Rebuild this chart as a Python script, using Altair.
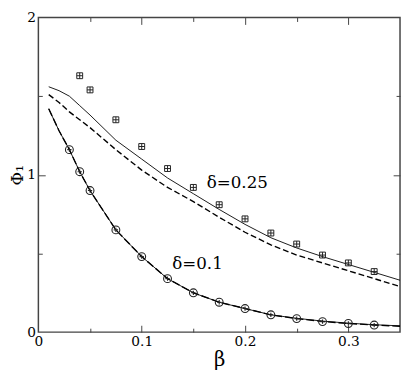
import altair as alt
import pandas as pd

# ---- data ----
beta_line = [0.01, 0.02, 0.03, 0.04, 0.05, 0.075, 0.1, 0.125, 0.15, 0.175,
             0.2, 0.225, 0.25, 0.275, 0.3, 0.325, 0.35]
phi025_solid = [1.56, 1.535, 1.50, 1.44, 1.38, 1.22, 1.10, 0.98, 0.88, 0.78,
                0.685, 0.60, 0.535, 0.48, 0.43, 0.38, 0.33]
phi025_dashed = [1.51, 1.46, 1.40, 1.35, 1.30, 1.16, 1.03, 0.92, 0.83, 0.73,
                 0.635, 0.555, 0.49, 0.44, 0.39, 0.34, 0.29]
phi01_solid = [1.42, 1.28, 1.16, 1.02, 0.90, 0.65, 0.48, 0.34, 0.25, 0.19,
               0.15, 0.11, 0.088, 0.07, 0.057, 0.047, 0.04]
phi01_dashed = [1.42, 1.28, 1.16, 1.02, 0.90, 0.65, 0.48, 0.34, 0.25, 0.19,
                0.15, 0.11, 0.086, 0.068, 0.055, 0.045, 0.037]

sq_beta = [0.04, 0.05, 0.075, 0.1, 0.125, 0.15, 0.175, 0.2, 0.225, 0.25,
           0.275, 0.3, 0.325]
sq_phi = [1.63, 1.54, 1.35, 1.18, 1.04, 0.92, 0.81, 0.72, 0.63, 0.56,
          0.49, 0.44, 0.385]

ci_beta = [0.03, 0.04, 0.05, 0.075, 0.1, 0.125, 0.15, 0.175, 0.2, 0.225,
           0.25, 0.275, 0.3, 0.325]
ci_phi = [1.16, 1.02, 0.90, 0.65, 0.48, 0.34, 0.25, 0.19, 0.15, 0.11,
          0.086, 0.067, 0.055, 0.045]

label_text = ["δ=0.25", "δ=0.1"]
label_beta = [0.1925, 0.154]
label_phi = [0.95, 0.43]

x_label_values = [0, 0.1, 0.2, 0.3]
x_tick_values = [0.05, 0.1, 0.15, 0.2, 0.25, 0.3]
y_label_values = [0, 1, 2]
y_tick_values = [0.5, 1, 1.5]

W, H = 369, 321
FONT = "DejaVu Serif"
AX = "#444444"

df_lines = pd.DataFrame({
    "beta": beta_line,
    "s025": phi025_solid,
    "d025": phi025_dashed,
    "s01": phi01_solid,
    "d01": phi01_dashed,
})
df_sq = pd.DataFrame({"beta": sq_beta, "phi": sq_phi})
df_ci = pd.DataFrame({"beta": ci_beta, "phi": ci_phi})
df_lab = pd.DataFrame({"t": label_text, "beta": label_beta, "phi": label_phi})

xs = alt.Scale(domain=[0, 0.35], nice=False, zero=False)
ys = alt.Scale(domain=[0, 2], nice=False, zero=False)

x_major = "abs(datum.value*10 - round(datum.value*10)) < 0.001"
y_major = "abs(datum.value - round(datum.value)) < 0.001"

ax_x_main = alt.Axis(values=x_label_values, ticks=False, domain=False, grid=False,
                     labelFont=FONT, labelFontSize=14, labelColor="black", labelPadding=3,
                     labelFlush=False, format="~g",
                     title="β", titleFont=FONT, titleFontSize=20, titleFontWeight="normal",
                     titleColor="black", titlePadding=1)
ax_y_main = alt.Axis(values=y_label_values, ticks=False, domain=False, grid=False,
                     labelFont=FONT, labelFontSize=14, labelColor="black", labelPadding=3,
                     labelFlush=False, format="~g",
                     title="Φ₁", titleFont=FONT, titleFontSize=17, titleFontWeight="normal",
                     titleColor="black", titlePadding=0)


def tick_axis_x(orient):
    return alt.Axis(orient=orient, offset=-H, values=x_tick_values, labels=False,
                    domain=False, grid=False, title=None, tickColor=AX, tickWidth=1,
                    tickSize={"condition": {"test": x_major, "value": 7}, "value": 4})


def tick_axis_y(orient):
    return alt.Axis(orient=orient, offset=-W, values=y_tick_values, labels=False,
                    domain=False, grid=False, title=None, tickColor=AX, tickWidth=1,
                    tickSize={"condition": {"test": y_major, "value": 7}, "value": 4})


base = alt.Chart(df_lines)

l1 = base.mark_line(color="black", strokeWidth=0.9).encode(
    x=alt.X("beta:Q", scale=xs, axis=ax_x_main),
    y=alt.Y("s025:Q", scale=ys, axis=ax_y_main),
)
l2 = base.mark_line(color="black", strokeWidth=1.4, strokeDash=[6, 3]).encode(
    x=alt.X("beta:Q", scale=xs, axis=tick_axis_x("top")),
    y=alt.Y("d025:Q", scale=ys, axis=tick_axis_y("right")),
)
l3 = base.mark_line(color="black", strokeWidth=0.9).encode(
    x=alt.X("beta:Q", scale=xs, axis=tick_axis_x("bottom")),
    y=alt.Y("s01:Q", scale=ys, axis=tick_axis_y("left")),
)
l4 = base.mark_line(color="black", strokeWidth=1.4, strokeDash=[8, 3]).encode(
    x=alt.X("beta:Q", scale=xs, axis=None),
    y=alt.Y("d01:Q", scale=ys, axis=None),
)

sq_shape = "M-1,-1H1V1H-1Z M-1,0H1 M0,-1V1"
ci_shape = "M-1,0A1,1 0 1,1 1,0A1,1 0 1,1 -1,0Z M-0.55,0H0.55 M0,-0.55V0.55"

pts_sq = alt.Chart(df_sq).mark_point(shape=sq_shape, size=36, filled=False,
                                     color="#222222", strokeWidth=1, opacity=1).encode(
    x=alt.X("beta:Q", scale=xs, axis=None),
    y=alt.Y("phi:Q", scale=ys, axis=None),
)
pts_ci = alt.Chart(df_ci).mark_point(shape=ci_shape, size=64, filled=False,
                                     color="#222222", strokeWidth=1.1, opacity=1).encode(
    x=alt.X("beta:Q", scale=xs, axis=None),
    y=alt.Y("phi:Q", scale=ys, axis=None),
)

labels = alt.Chart(df_lab).mark_text(font=FONT, fontSize=17, color="black",
                                     align="center", baseline="middle").encode(
    x=alt.X("beta:Q", scale=xs, axis=None),
    y=alt.Y("phi:Q", scale=ys, axis=None),
    text="t:N",
)

chart = alt.layer(l1, l2, l3, l4, pts_sq, pts_ci, labels).resolve_axis(
    x="independent", y="independent"
).properties(
    width=W, height=H,
    padding={"left": 31, "top": 6, "right": 1, "bottom": 39},
    autosize=alt.AutoSizeParams(type="none"),
).configure_view(
    stroke=AX, strokeWidth=1.5
)

chart.save("out.html", embed_options={"renderer": "svg", "actions": False})
